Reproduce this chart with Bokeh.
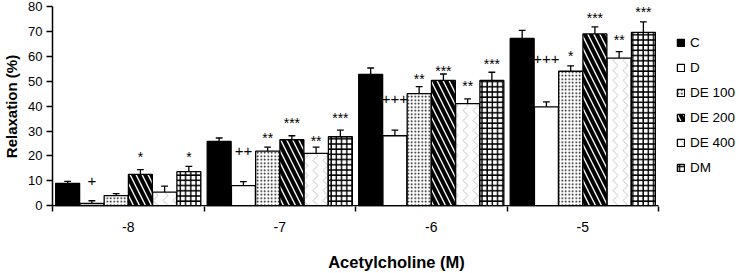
from bokeh.plotting import figure
from bokeh.models import Range1d, FixedTicker, LinearAxis, Legend, LegendItem, ColumnDataSource
from bokeh.core.properties import value
from bokeh.embed import file_html
from bokeh.resources import INLINE

# ---- data ----
doses = ["-8", "-7", "-6", "-5"]
series = ["C", "D", "DE 100", "DE 200", "DE 400", "DM"]

C = [9.0, 25.8, 52.7, 67.2]
C_err = [0.8, 1.4, 2.6, 3.2]
D = [0.9, 8.1, 28.1, 39.7]
D_err = [1.1, 1.6, 2.3, 2.0]
DE100 = [4.1, 21.9, 45.0, 54.0]
DE100_err = [0.8, 1.6, 2.8, 2.2]
DE200 = [12.6, 26.5, 50.3, 69.0]
DE200_err = [1.9, 1.6, 2.6, 2.8]
DE400 = [5.5, 21.0, 41.0, 59.3]
DE400_err = [2.4, 2.5, 1.9, 2.6]
DM = [13.7, 27.7, 50.3, 69.6]
DM_err = [2.1, 2.7, 3.3, 4.2]

# significance marks and the heights (in %) at which they are printed
C_sig = ["", "", "", ""]
C_sig_y = [0, 0, 0, 0]
D_sig = ["+", "++", "+++", "+++"]
D_sig_y = [10.1, 22.0, 43.0, 59.0]
DE100_sig = ["", "**", "**", "*"]
DE100_sig_y = [0, 28.0, 51.6, 61.0]
DE200_sig = ["*", "***", "***", "***"]
DE200_sig_y = [20.3, 34.0, 55.0, 76.0]
DE400_sig = ["", "**", "**", "**"]
DE400_sig_y = [0, 27.0, 48.7, 67.4]
DM_sig = ["*", "***", "***", "***"]
DM_sig_y = [20.3, 36.0, 57.8, 78.7]

values = [C, D, DE100, DE200, DE400, DM]
errors = [C_err, D_err, DE100_err, DE200_err, DE400_err, DM_err]
sigs = [C_sig, D_sig, DE100_sig, DE200_sig, DE400_sig, DM_sig]
sig_ys = [C_sig_y, D_sig_y, DE100_sig_y, DE200_sig_y, DE400_sig_y, DM_sig_y]

# ---- styles ----
FONT = "Liberation Sans"
styles = [
    dict(fill_color="black"),
    dict(fill_color="white"),
    dict(fill_color="white", hatch_pattern=".", hatch_scale=3.5, hatch_weight=1.0, hatch_color="black"),
    dict(fill_color="white", hatch_pattern="\\", hatch_scale=12, hatch_weight=4, hatch_color="black"),
    dict(fill_color="white", hatch_pattern=">", hatch_scale=10, hatch_weight=0.7, hatch_color="#aaaaaa"),
    dict(fill_color="white", hatch_pattern="+", hatch_scale=5.2, hatch_weight=1.4, hatch_color="black"),
]

n_groups = len(doses)
n_series = len(series)
slot = 0.16
pad = 0.02
bar_w = 0.158
cap_w = 0.045
legend_room = 0.541  # extra x room (in group widths) that holds the legend

p = figure(width=740, height=273, x_range=Range1d(0, n_groups + legend_room), y_range=Range1d(-0.3, 80),
           output_backend="svg", toolbar_location=None,
           min_border_left=52, min_border_right=0, min_border_top=6, min_border_bottom=66)
p.grid.visible = False
p.outline_line_color = None
p.background_fill_color = "white"
p.border_fill_color = "white"

# x baseline (only under the groups)
p.segment(x0=[0], y0=[0], x1=[n_groups], y1=[0], line_color="black", line_width=1.5)

legend_items = []
for s in range(n_series):
    xs = [g + pad + slot * (s + 0.5) for g in range(n_groups)]
    src = ColumnDataSource(dict(x=xs, top=values[s]))
    r = p.vbar(x="x", top="top", width=bar_w, bottom=0, source=src,
               line_color="black", line_width=1.3, **styles[s])
    legend_items.append(LegendItem(label=series[s], renderers=[r]))
    tops = [v + e for v, e in zip(values[s], errors[s])]
    p.segment(x0=xs, y0=values[s], x1=xs, y1=tops, line_color="black", line_width=1.3)
    p.segment(x0=[x - cap_w / 2 for x in xs], y0=tops, x1=[x + cap_w / 2 for x in xs], y1=tops,
              line_color="black", line_width=1.3)
    lx = [x for x, t in zip(xs, sigs[s]) if t]
    ly = [y for y, t in zip(sig_ys[s], sigs[s]) if t]
    lt = [t for t in sigs[s] if t]
    if lt:
        is_star = "*" in lt[0]
        p.text(x=lx, y=ly, text=lt, text_align="center", text_baseline="alphabetic",
               y_offset=2 if is_star else 0,
               text_font=value(FONT), text_font_size="14px" if is_star else "15px", text_color="black")

# y axis
p.yaxis.ticker = FixedTicker(ticks=list(range(0, 81, 10)))
p.yaxis.axis_label = "Relaxation (%)"
p.yaxis.axis_label_text_font = FONT
p.yaxis.axis_label_text_font_style = "bold"
p.yaxis.axis_label_text_font_size = "15px"
p.yaxis.axis_label_standoff = 5
p.yaxis.major_label_text_font = FONT
p.yaxis.major_label_text_font_size = "13px"
p.yaxis.major_label_standoff = 4
p.yaxis.major_tick_out = 6
p.yaxis.major_tick_in = 0
p.yaxis.minor_tick_line_color = None
p.yaxis.axis_line_width = 1.5
p.yaxis.major_tick_line_width = 1.5
p.yaxis.axis_line_color = "black"
p.yaxis.major_tick_line_color = "black"
p.yaxis.major_label_text_color = "black"
p.yaxis.axis_label_text_color = "black"

# x axis: boundary ticks (its line is drawn by the baseline segment)
bounds = list(range(n_groups + 1))
p.xaxis.ticker = FixedTicker(ticks=bounds)
p.xaxis.major_label_overrides = {b: "" for b in bounds}
p.xaxis.major_label_standoff = 0
p.xaxis.major_tick_out = 5
p.xaxis.major_tick_in = 0
p.xaxis.minor_tick_line_color = None
p.xaxis.axis_line_color = None
p.xaxis.major_tick_line_width = 1.5
p.xaxis.major_tick_line_color = "black"

# x axis: dose labels at group centres
centres = [g + 0.5 for g in range(n_groups)]
ax2 = LinearAxis(ticker=FixedTicker(ticks=centres),
                 major_label_overrides={c: d for c, d in zip(centres, doses)},
                 axis_line_color=None, major_tick_line_color=None, minor_tick_line_color=None,
                 major_tick_out=0, major_tick_in=0, major_label_standoff=10,
                 major_label_text_font=FONT, major_label_text_font_size="14px",
                 major_label_text_color="black",
                 axis_label="Acetylcholine (M)", axis_label_text_font=FONT,
                 axis_label_text_font_style="bold", axis_label_text_font_size="16.5px",
                 axis_label_standoff=18, axis_label_text_color="black")
p.add_layout(ax2, "below")

legend = Legend(items=legend_items, location=(624, 29), orientation="vertical",
                glyph_width=9, glyph_height=9, label_height=20, spacing=5, padding=0, margin=0,
                label_standoff=5, label_text_font=FONT, label_text_font_size="13.5px",
                label_text_color="black", border_line_color=None, background_fill_alpha=0)
p.add_layout(legend, "center")

open("out.html", "w").write(file_html(p, INLINE))
